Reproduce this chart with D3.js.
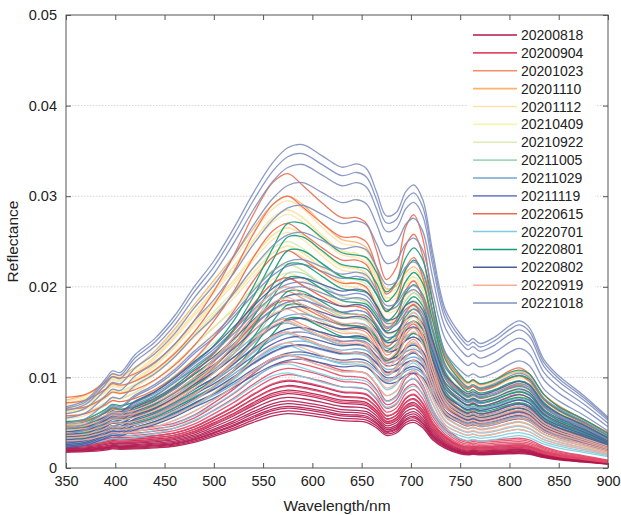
<!DOCTYPE html>
<html>
<head>
<meta charset="utf-8">
<script src="https://cdnjs.cloudflare.com/ajax/libs/d3/7.8.5/d3.min.js"></script>
<style>
    body { margin: 0; background: #fff; }
    #chart-area text { font-family: "Liberation Sans", Arial, sans-serif; fill: #222; }
    .axis path { display: none; }
    .axis line { stroke: #555; }
    .grid line { stroke: #d4d4d4; stroke-dasharray: 1.5,1.5; }
</style>
</head>
<body>
<div id="chart-area"></div>
<script>

// wavelength grid (nm) the spectra are read at
const wavelengths = [350, 370, 390, 397, 405, 420, 440, 460, 480, 500, 520, 540, 560, 575, 590, 610, 630, 645, 655,
    665, 675, 685, 695, 703, 712, 722, 735, 750, 758, 763, 770, 785, 800, 810, 820, 835, 850, 875, 900];

// relative spectral shapes (per group of dates)
const shapeRed = [.29, .30, .33, .35, .345, .35, .37, .40, .47, .58, .70, .84, .96, 1.0, .98, .93, .87, .86, .84,
    .74, .60, .64, .80, .84, .74, .52, .36, .26, .24, .25, .24, .25, .26, .265, .25, .19, .15, .11, .07];
const shapeOrange = [.24, .25, .29, .31, .305, .32, .36, .42, .50, .60, .72, .86, .97, 1.0, .96, .90, .85, .85, .83,
    .74, .64, .68, .82, .86, .78, .57, .38, .31, .29, .30, .285, .30, .33, .34, .32, .25, .21, .165, .12];
const shapeYellow = [.25, .27, .32, .345, .34, .37, .43, .51, .60, .69, .78, .88, .97, 1.0, .97, .90, .84, .83, .81,
    .74, .66, .67, .72, .74, .70, .56, .40, .33, .31, .32, .305, .32, .345, .355, .34, .27, .23, .18, .13];
const shapeGreen = [.19, .20, .24, .26, .255, .27, .31, .37, .43, .50, .60, .74, .90, 1.0, 1.0, .94, .88, .87, .86,
    .80, .72, .76, .86, .90, .85, .68, .47, .38, .35, .36, .345, .36, .39, .40, .385, .30, .25, .20, .14];
const shapeGray = [.19, .21, .275, .30, .295, .35, .40, .47, .56, .64, .74, .85, .945, .99, 1.0, .965, .93, .94, .925,
    .855, .78, .79, .855, .875, .83, .67, .49, .415, .39, .40, .385, .405, .44, .455, .435, .335, .285, .225, .157];

const dates = ["20200818", "20200904", "20201023", "20201110", "20201112", "20210409", "20210922", "20211005",
    "20211029", "20211119", "20220615", "20220701", "20220801", "20220802", "20220919", "20221018"];

const dateShapes = ["red", "red", "orange", "yellow", "yellow", "yellow", "yellow", "green",
    "gray", "gray", "orange", "orange", "green", "gray", "orange", "gray"];

// peak reflectance of each sample spectrum, per date
const peakLevels = [
    [0.0060, 0.0063, 0.0066, 0.0068, 0.0071, 0.0074, 0.0078, 0.0082, 0.0086, 0.0091, 0.0096],
    [0.0084, 0.0090, 0.0097, 0.0103, 0.0110, 0.0117, 0.0124],
    [0.0150, 0.0165, 0.0180, 0.0195, 0.0210],
    [0.0225, 0.0245, 0.0265, 0.0285, 0.0300],
    [0.0215, 0.0240, 0.0260, 0.0280, 0.0295],
    [0.0225, 0.0245, 0.0265, 0.0285],
    [0.0180, 0.0200, 0.0225, 0.0250],
    [0.0165, 0.0190, 0.0215, 0.0240],
    [0.0125, 0.0140, 0.0155, 0.0170, 0.0185],
    [0.0135, 0.0150, 0.0165, 0.0185, 0.0205, 0.0225],
    [0.0160, 0.0185, 0.0210, 0.0240, 0.0270, 0.0300, 0.0325],
    [0.0105, 0.0115, 0.0125, 0.0135, 0.0148, 0.0160],
    [0.0165, 0.0180, 0.0195, 0.0210, 0.0225, 0.0240, 0.0255, 0.0270],
    [0.0120, 0.0128, 0.0136, 0.0145, 0.0155, 0.0165, 0.0178, 0.0192, 0.0210],
    [0.0125, 0.0138, 0.0150, 0.0162, 0.0175, 0.0188, 0.0200],
    [0.0200, 0.0230, 0.0260, 0.0290, 0.0315, 0.0335, 0.0347, 0.0357]
];

const dateColors = ["#b0174e", "#e24a68", "#f58d6a", "#fbb56b", "#fde3a7", "#f6f5b0", "#d8edb5", "#a3d9b8",
    "#6fa9d0", "#7d87c8", "#ec6a4f", "#7ccde0", "#1a9a7a", "#4d5c9e", "#f7ad97", "#7f8fbf"];

const xTicks = [350, 400, 450, 500, 550, 600, 650, 700, 750, 800, 850, 900];
const yTicks = [0, 0.01, 0.02, 0.03, 0.04, 0.05];

class SpectraVis {

    constructor(_parentElement) {
        this.parentElement = _parentElement;
        this.shapes = { red: shapeRed, orange: shapeOrange, yellow: shapeYellow, green: shapeGreen, gray: shapeGray };
        this.initVis();
    }

    initVis() {
        let vis = this;

        vis.margin = { top: 15, right: 13, bottom: 47, left: 66 };
        vis.width = 621 - vis.margin.left - vis.margin.right;
        vis.height = 515 - vis.margin.top - vis.margin.bottom;

        vis.svg = d3.select("#" + vis.parentElement).append("svg")
            .attr("width", 621)
            .attr("height", 515)
            .append("g")
            .attr("transform", "translate(" + vis.margin.left + "," + vis.margin.top + ")");

        vis.x = d3.scaleLinear().domain([350, 900]).range([0, vis.width]);
        vis.y = d3.scaleLinear().domain([0, 0.05]).range([vis.height, 0]);

        vis.svg.append("defs").append("clipPath")
            .attr("id", "plot-clip")
            .append("rect")
            .attr("width", vis.width)
            .attr("height", vis.height);

        // dotted horizontal grid
        vis.svg.append("g")
            .attr("class", "grid")
            .selectAll("line")
            .data(yTicks.slice(1, -1))
            .enter().append("line")
            .attr("x1", 0)
            .attr("x2", vis.width)
            .attr("y1", d => vis.y(d))
            .attr("y2", d => vis.y(d));

        vis.lineGroup = vis.svg.append("g").attr("clip-path", "url(#plot-clip)");

        vis.line = d3.line()
            .x(d => vis.x(d.w))
            .y(d => vis.y(d.r))
            .curve(d3.curveCatmullRom.alpha(0.5));

        vis.wrangleData();
    }

    wrangleData() {
        let vis = this;

        vis.displayData = [];
        dates.forEach(function(date, i) {
            let shape = vis.shapes[dateShapes[i]];
            peakLevels[i].forEach(function(level) {
                vis.displayData.push({
                    date: date,
                    color: dateColors[i],
                    values: wavelengths.map((w, j) => ({ w: w, r: shape[j] * level }))
                });
            });
        });

        vis.updateVis();
    }

    updateVis() {
        let vis = this;

        vis.lineGroup.selectAll(".spectrum")
            .data(vis.displayData)
            .enter().append("path")
            .attr("class", "spectrum")
            .attr("fill", "none")
            .attr("stroke", d => d.color)
            .attr("stroke-width", 1.3)
            .attr("stroke-opacity", 0.9)
            .attr("d", d => vis.line(d.values));

        // legend with white background, no border
        let legend = vis.svg.append("g")
            .attr("transform", "translate(407,20)");

        legend.append("rect")
            .attr("x", -6)
            .attr("y", -12)
            .attr("width", 128)
            .attr("height", 290)
            .attr("fill", "#fff");

        let rows = legend.selectAll(".legend-row")
            .data(dates)
            .enter().append("g")
            .attr("class", "legend-row")
            .attr("transform", (d, i) => "translate(0," + (i * 17.87) + ")");

        rows.append("line")
            .attr("x1", 0)
            .attr("x2", 44)
            .attr("stroke", (d, i) => dateColors[i])
            .attr("stroke-width", 1.6);

        rows.append("text")
            .attr("x", 48)
            .attr("dy", "0.36em")
            .style("font-size", "14px")
            .text(d => d);

        // frame and inward ticks on all four sides
        vis.svg.append("rect")
            .attr("width", vis.width)
            .attr("height", vis.height)
            .attr("fill", "none")
            .attr("stroke", "#555");

        vis.svg.append("g")
            .attr("class", "axis")
            .attr("transform", "translate(0," + vis.height + ")")
            .call(d3.axisBottom(vis.x).tickValues(xTicks).tickSizeInner(-5).tickSizeOuter(0).tickPadding(8))
            .selectAll("text").style("font-size", "14.5px");

        vis.svg.append("g")
            .attr("class", "axis")
            .call(d3.axisTop(vis.x).tickValues(xTicks).tickSizeInner(-5).tickSizeOuter(0).tickFormat(""));

        vis.svg.append("g")
            .attr("class", "axis")
            .call(d3.axisLeft(vis.y).tickValues(yTicks).tickSizeInner(-5).tickSizeOuter(0).tickPadding(9)
                .tickFormat(d => d === 0 ? "0" : d3.format(".2f")(d)))
            .selectAll("text").style("font-size", "14.5px");

        vis.svg.append("g")
            .attr("class", "axis")
            .attr("transform", "translate(" + vis.width + ",0)")
            .call(d3.axisRight(vis.y).tickValues(yTicks).tickSizeInner(-5).tickSizeOuter(0).tickFormat(""));

        vis.svg.append("text")
            .attr("x", vis.width / 2)
            .attr("y", vis.height + 43)
            .attr("text-anchor", "middle")
            .style("font-size", "15.5px")
            .text("Wavelength/nm");

        vis.svg.append("text")
            .attr("transform", "rotate(-90)")
            .attr("x", -vis.height / 2)
            .attr("y", -48)
            .attr("text-anchor", "middle")
            .style("font-size", "15.5px")
            .text("Reflectance");
    }
}

let spectraVis = new SpectraVis("chart-area");

</script>
</body>
</html>
